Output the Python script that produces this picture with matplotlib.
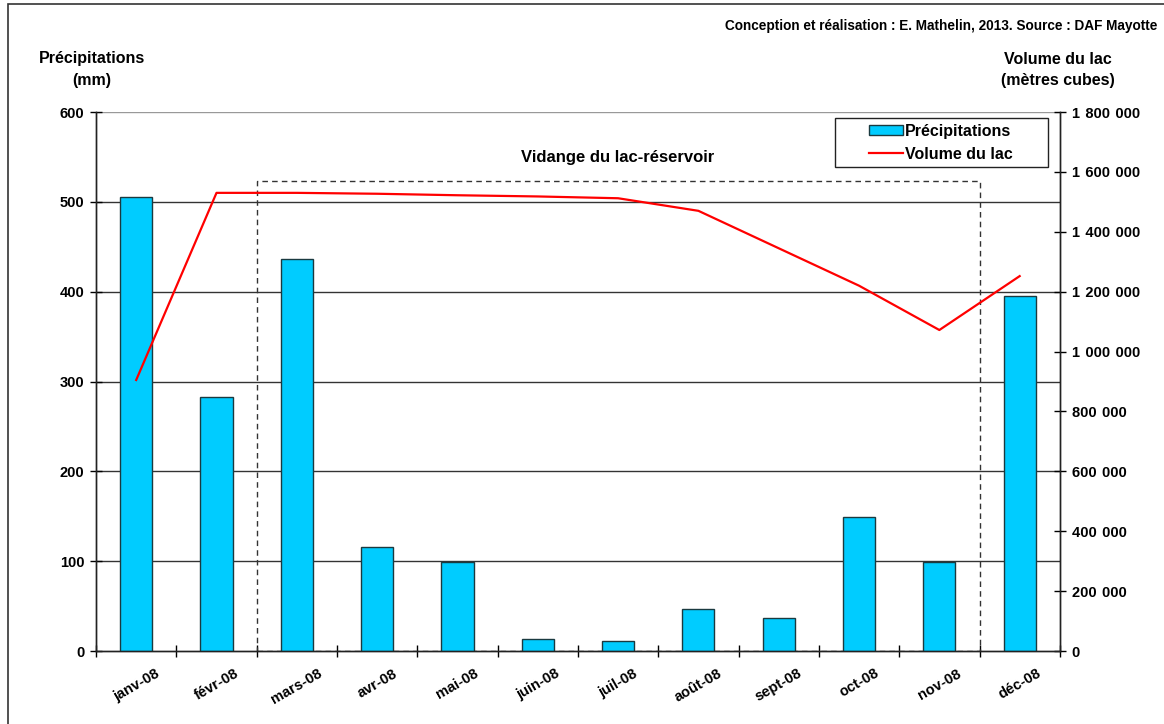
import numpy as np
import matplotlib.pyplot as plt
from matplotlib.patches import Rectangle
from matplotlib.ticker import FuncFormatter

plt.rcParams['font.family'] = ['Liberation Sans', 'DejaVu Sans']
plt.rcParams['font.weight'] = 'bold'

# Données mensuelles 2008
mois = ['janv-08', 'févr-08', 'mars-08', 'avr-08', 'mai-08', 'juin-08',
        'juil-08', 'août-08', 'sept-08', 'oct-08', 'nov-08', 'déc-08']
precipitations = [505, 283, 436, 116, 99, 13, 11, 47, 37, 149, 99, 395]
volume_lac = [905000, 1530000, 1530000, 1527000, 1522000, 1518000,
              1512000, 1470000, 1345000, 1220000, 1072000, 1252000]

x = np.arange(len(mois))

fig = plt.figure(figsize=(11.64, 7.24), dpi=100)
ax = fig.add_axes([0.0825, 0.1008, 0.828, 0.7445])
ax2 = ax.twinx()

# Barres des précipitations
barres = ax.bar(x, precipitations, width=0.4, color='#00CCFF',
                edgecolor='#1a3a40', linewidth=1, zorder=3,
                label='Précipitations')
ax.set_ylim(0, 600)
ax.set_xlim(-0.5, len(mois) - 0.5)
ax.set_yticks(range(0, 601, 100))
for v in range(100, 600, 100):
    ax.axhline(v, color='#333333', lw=1, zorder=1)
ax.axhline(600, color='#999999', lw=1, zorder=1)

# Courbe du volume du lac
ligne, = ax2.plot(x, volume_lac, color='red', lw=1.6, zorder=4,
                  label='Volume du lac')
ax2.set_ylim(0, 1800000)
ax2.set_yticks(range(0, 1800001, 200000))
ax2.yaxis.set_major_formatter(
    FuncFormatter(lambda v, p: f'{int(v):,}'.replace(',', ' \u200a')))

for a in (ax, ax2):
    a.spines['top'].set_visible(False)
    for s in a.spines.values():
        s.set_color('#222222')
        s.set_linewidth(1)
    a.tick_params(axis='y', labelsize=10.5, direction='inout', length=9,
                  width=1, pad=4, colors='#000000')

# Axe des x : traits aux limites des mois, étiquettes au centre
ax.set_xticks(np.arange(-0.5, len(mois)), minor=False)
ax.set_xticklabels([])
ax.tick_params(axis='x', which='major', direction='inout', length=9, width=1)
ax.set_xticks(x, minor=True)
ax.set_xticklabels(mois, minor=True, rotation=30, fontsize=10.5)
ax.tick_params(axis='x', which='minor', length=0, pad=11)

# Période de vidange
cadre = Rectangle((1.5, 0), 9, 523, fill=False, ls=(0, (4, 3)),
                  lw=1, edgecolor='#333333', zorder=2)
ax.add_patch(cadre)
ax.text(6.0, 549, 'Vidange du lac-réservoir', ha='center', va='center',
        fontsize=12)

# Légende, centrée dans un cadre plus large
ax2.add_patch(Rectangle((0.7666, 0.898), 0.221, 0.0909,
                        transform=ax2.transAxes, facecolor='white',
                        edgecolor='#222222', lw=1, zorder=5))
leg = ax2.legend([barres, ligne], ['Précipitations', 'Volume du lac'],
                 loc='center', bbox_to_anchor=(0.877, 0.9434),
                 frameon=False, fontsize=11.5,
                 handlelength=2.1, handleheight=0.6, handletextpad=0.15,
                 borderpad=0, labelspacing=0.5, borderaxespad=0)
leg.set_zorder(6)

# Titres des axes et source
fig.text(92 / 1164, 1 - 59 / 724, 'Précipitations', ha='center', va='center',
         fontsize=11.5)
fig.text(92 / 1164, 1 - 80 / 724, '(mm)', ha='center', va='center',
         fontsize=11.5)
fig.text(1058 / 1164, 1 - 59 / 724, 'Volume du lac', ha='center',
         va='center', fontsize=11.5)
fig.text(1058 / 1164, 1 - 80 / 724, '(mètres cubes)', ha='center',
         va='center', fontsize=11.5)
fig.text(1157 / 1164, 1 - 26 / 724,
         'Conception et réalisation : E. Mathelin, 2013. Source : DAF Mayotte',
         ha='right', va='center', fontsize=9.8)

# Cadre de la figure
fig.patches.append(Rectangle((8 / 1164, -0.01), 1.02, 1 - 4 / 724 + 0.01,
                             transform=fig.transFigure, fill=False,
                             lw=1.2, edgecolor='#333333'))

fig.savefig('out.png', dpi=100)
